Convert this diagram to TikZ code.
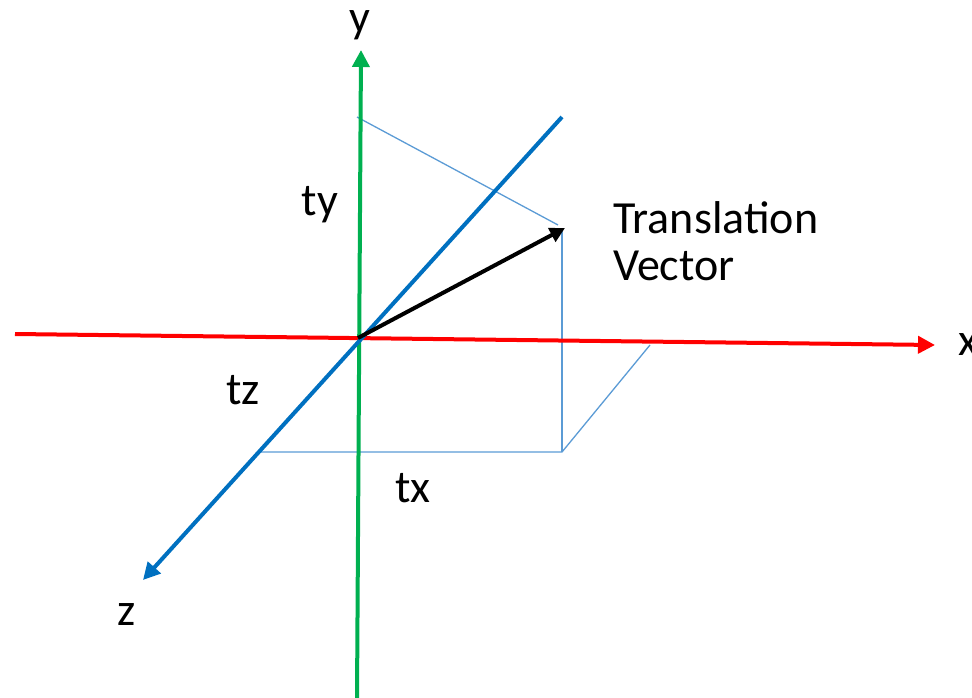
\documentclass[tikz,border=0pt]{standalone}
\usepackage{fontspec}
\setmainfont{Carlito}
\usetikzlibrary{arrows.meta}
\definecolor{axgreen}{RGB}{0,176,80}
\definecolor{axred}{RGB}{255,0,0}
\definecolor{axblue}{RGB}{0,112,192}
\definecolor{guide}{RGB}{91,155,213}

\begin{document}
\begin{tikzpicture}[
  x=1pt, y=-1pt,
  axis/.style={line width=4pt, -{Triangle[length=17pt,width=17pt]}},
  guideline/.style={draw=guide, line width=1.3pt},
  lbl/.style={anchor=base, font=\fontsize{46}{47}\selectfont, text=black,
              inner sep=0pt},
]

\useasboundingbox (0,0) rectangle (972,698);

% ---- key points ----
\coordinate (O)   at (358,338);
\coordinate (P)   at (565,228);
\coordinate (Ty)  at (357,117);
\coordinate (Pt)  at (558,225);
\coordinate (Pv)  at (562,228);
\coordinate (B)   at (562,452);
\coordinate (Zb)  at (259,452);
\coordinate (Xb)  at (650,345);

% ---- axis ends ----
\coordinate (ybot) at (357,698);
\coordinate (ytip) at (361,50);
\coordinate (xlft) at (15,334);
\coordinate (xtip) at (935,345);
\coordinate (ztop) at (562,117);
\coordinate (ztip) at (143,580);

% ---- projection guides ----
\draw[guideline] (Ty) -- (Pt);
\draw[guideline] (Pv) -- (B);
\draw[guideline] (Zb) -- (B) -- (Xb);

% ---- axes ----
\draw[axis, axgreen] (ybot) -- (ytip);
\draw[axis, axred]   (xlft) -- (xtip);
\draw[axis, axblue]  (ztop) -- (ztip);

% ---- translation vector ----
\draw[line width=4pt, -{Triangle[length=15pt,width=15pt]}] (O) -- (P);

% ---- labels ----
\node[lbl] (ly)  at (360,33)  {y};
\node[lbl, anchor=base west] (lx) at (958,355) {x};
\node[lbl] (lz)  at (127,625) {z};
\node[lbl] (lty) at (320,215) {ty};
\node[lbl] (ltz) at (243,404) {tz};
\node[lbl] (ltx) at (413,502) {tx};
\node[lbl, anchor=base west, align=left] (lvec) at (613,280)
      {Translation\\Vector};

\end{tikzpicture}
\end{document}
